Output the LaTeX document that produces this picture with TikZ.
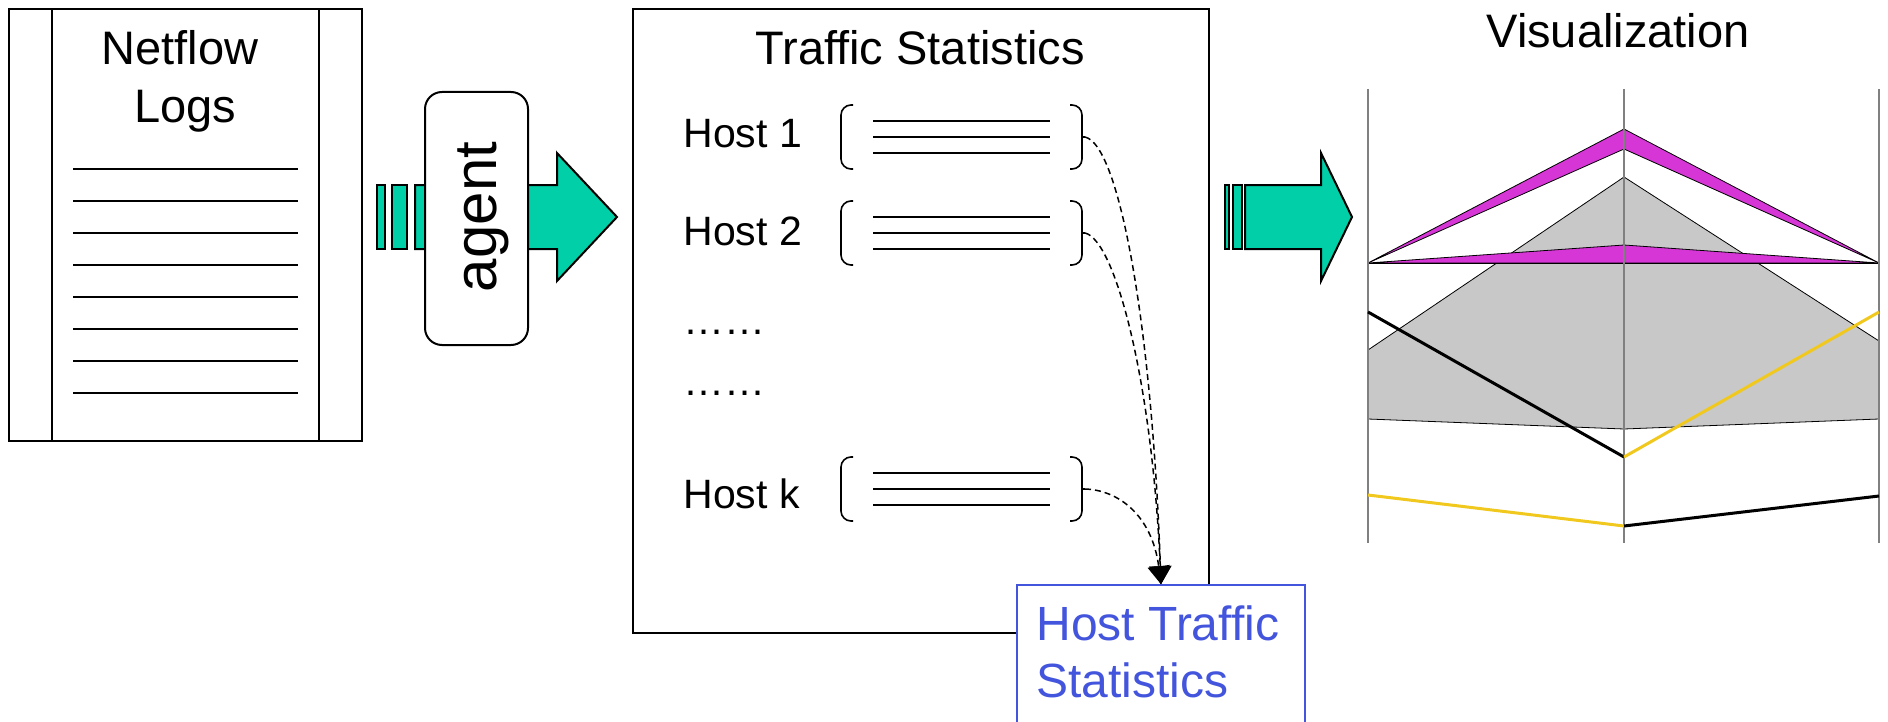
\documentclass[tikz,border=0pt]{standalone}
\usepackage{fontspec}
\setmainfont{Liberation Sans}
\usetikzlibrary{arrows.meta}
\definecolor{tealfill}{RGB}{0,207,168}
\definecolor{magfill}{RGB}{214,54,214}
\definecolor{grayfill}{RGB}{200,200,200}
\definecolor{yel}{RGB}{240,200,30}
\definecolor{htsblue}{RGB}{68,85,221}
\definecolor{axisgray}{RGB}{128,128,128}
\begin{document}
\begin{tikzpicture}[x=0.5pt,y=-0.5pt,line join=miter,
  boxstyle/.style={draw=black,line width=1pt,inner sep=0pt},
  rule/.style={draw=black,line width=1pt},
  fatarrow/.style={fill=tealfill,draw=black,line width=1pt},
  bigtext/.style={font=\fontsize{23.5}{28}\selectfont},
  hosttext/.style={font=\fontsize{20.5}{24}\selectfont,inner sep=0pt,anchor=base west},
  htstext/.style={font=\fontsize{24}{28}\selectfont,text=htsblue,anchor=base west,inner sep=0pt},
  bracket/.style={draw=black,line width=0.8pt,rounded corners=5pt},
  flow/.style={draw=black,line width=0.75pt,dash pattern=on 3pt off 2pt,-{Triangle[width=11pt,length=9pt]}},
  axisline/.style={draw=axisgray,line width=0.6pt},
  bandedge/.style={draw=black,line width=0.4pt},
  thickline/.style={line width=1.5pt}]
\useasboundingbox (0,0) rectangle (1888,722);
\clip (0,0) rectangle (1888,722);
% Netflow logs document
\node[boxstyle,minimum width=176.5pt,minimum height=216pt] (logs) at (185.5,225) {};
\draw[rule] (52,9) -- (52,441);
\draw[rule] (319,9) -- (319,441);
\node[bigtext,anchor=base] (nf) at (180,65) {Netflow};
\node[bigtext,anchor=base] (lg) at (185,123) {Logs};
\foreach \k in {0,...,7}{
  \draw[rule] (73,169+32*\k) -- (298,169+32*\k);
}
% first fat arrow
\filldraw[fatarrow] (377,185) rectangle (385,249);
\filldraw[fatarrow] (392,185) rectangle (407,249);
\filldraw[fatarrow] (415,185) -- (557,185) -- (557,153) -- (617,217) -- (557,281) -- (557,249) -- (415,249) -- cycle;
% agent
\node[draw=black,line width=1pt,fill=white,rounded corners=8.5pt,minimum width=51.5pt,minimum height=126.5pt,inner sep=0pt] (agentbox) at (476.5,218.5) {};
\node[font=\fontsize{30}{34}\selectfont,rotate=90] (agent) at (483,217) {agent};
% traffic statistics
\node[boxstyle,minimum width=288pt,minimum height=312pt] (traffic) at (921,321) {};
\node[bigtext,anchor=base] (ts) at (920,65) {Traffic Statistics};
\node[hosttext] (h1) at (683,148) {Host 1};
\node[hosttext] (h2) at (683,245) {Host 2};
\node[hosttext] (d1) at (683,334) {……};
\node[hosttext] (d2) at (683,395) {……};
\node[hosttext] (hk) at (683,508) {Host k};
\foreach \yc/\nm in {137/r1,233/r2,489/rk}{
  \draw[bracket] (853,\yc-32) -- (841,\yc-32) -- (841,\yc+32) -- (853,\yc+32);
  \draw[bracket] (1070,\yc-32) -- (1082,\yc-32) -- (1082,\yc+32) -- (1070,\yc+32);
  \draw[line width=0.8pt] (1082,\yc) -- (1085,\yc);
  \foreach \d in {-16,0,16}{
    \draw[line width=0.8pt] (873,\yc+\d) -- (1050,\yc+\d);
  }
  \coordinate (\nm) at (1085,\yc);
}
% host traffic statistics box
\node[draw=htsblue,line width=0.8pt,fill=white,minimum width=144pt,minimum height=77.5pt,inner sep=0pt] (hts) at (1161,662.5) {};
\node[htstext] (hl1) at (1036,640) {Host Traffic};
\node[htstext] (hl2) at (1036,697) {Statistics};
\draw[flow] (r1) .. controls (1120,145) and (1152,330) .. (hts.north);
\draw[flow] (r2) .. controls (1115,240) and (1152,380) .. (hts.north);
\draw[flow] (rk) .. controls (1118,490) and (1152,515) .. (hts.north);
% second fat arrow
\filldraw[fatarrow] (1225,185) rectangle (1229,249);
\filldraw[fatarrow] (1233,185) rectangle (1242,249);
\filldraw[fatarrow] (1245,185) -- (1321,185) -- (1321,153) -- (1352,217) -- (1321,281) -- (1321,249) -- (1245,249) -- cycle;
% visualization
\node[bigtext,anchor=base] (vis) at (1618,48) {Visualization};
\fill[grayfill] (1368,350) -- (1624,177) -- (1879,341) -- (1879,419) -- (1624,429) -- (1368,419) -- cycle;
\draw[bandedge] (1368,350) -- (1624,177) -- (1879,341);
\draw[bandedge] (1368,419) -- (1624,429) -- (1879,419);
\filldraw[fill=magfill,bandedge] (1368,263) -- (1624,129) -- (1879,263) -- (1624,149) -- cycle;
\filldraw[fill=magfill,bandedge] (1368,263) -- (1624,245) -- (1879,263) -- cycle;
\draw[bandedge] (1368,263) -- (1879,263);
\draw[axisline] (1368,89) -- (1368,543);
\draw[axisline] (1624,89) -- (1624,543);
\draw[axisline] (1879,89) -- (1879,543);
\draw[thickline,black] (1368,312) -- (1624,457);
\draw[thickline,yel] (1624,457) -- (1879,312);
\draw[thickline,yel] (1368,495) -- (1624,526);
\draw[thickline,black] (1624,526) -- (1879,496);
\end{tikzpicture}
\end{document}
